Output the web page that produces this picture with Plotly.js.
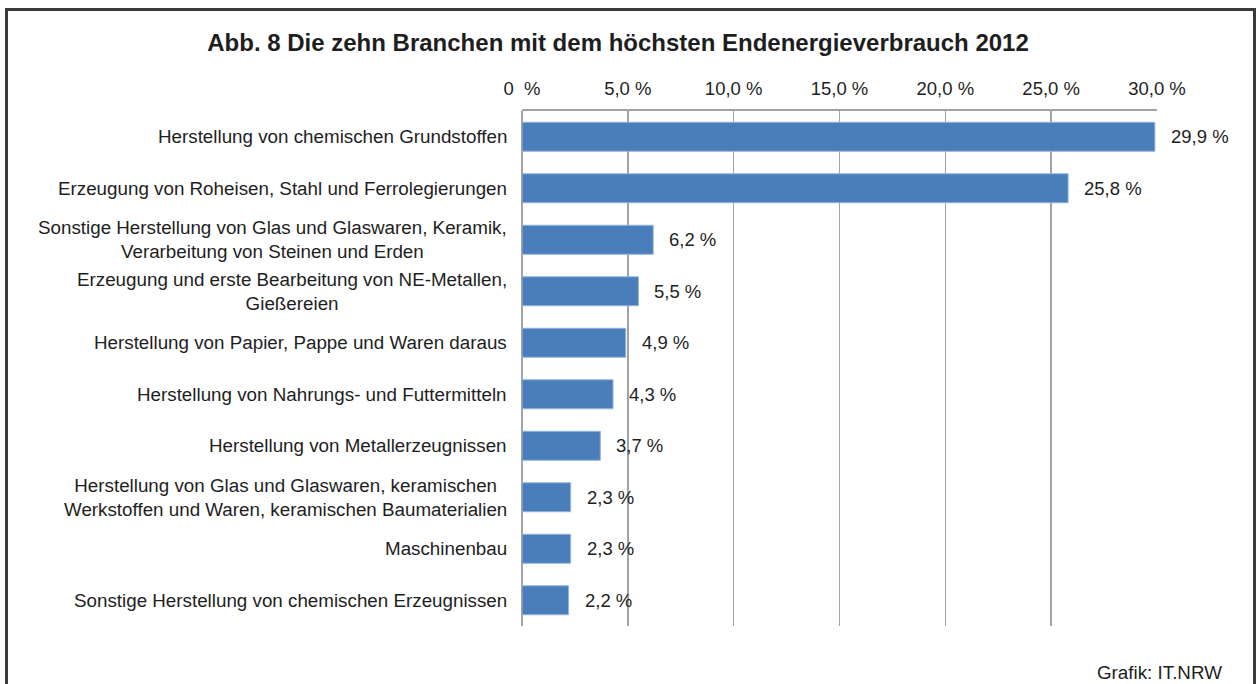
<!DOCTYPE html>
<html>
<head>
<meta charset="utf-8">
<script src="https://cdn.plot.ly/plotly-3.0.1.min.js"></script>
<style>
body{margin:0;background:#ffffff;}
#frame{position:absolute;left:5px;top:8px;width:1245px;height:720px;border:3px solid #3a3a3a;}
#myDiv{position:absolute;left:0;top:0;width:1260px;height:684px;}
</style>
</head>
<body>
<div id="frame"></div>
<div id="myDiv"></div>
<script>
var branchen=["Herstellung von chemischen Grundstoffen",
	"Erzeugung von Roheisen, Stahl und Ferrolegierungen",
	"Sonstige Herstellung von Glas und Glaswaren, Keramik,<br>Verarbeitung von Steinen und Erden",
	"Erzeugung und erste Bearbeitung von NE-Metallen,<br>Gießereien",
	"Herstellung von Papier, Pappe und Waren daraus",
	"Herstellung von Nahrungs- und Futtermitteln",
	"Herstellung von Metallerzeugnissen",
	"Herstellung von Glas und Glaswaren, keramischen<br>Werkstoffen und Waren, keramischen Baumaterialien",
	"Maschinenbau",
	"Sonstige Herstellung von chemischen Erzeugnissen"]
var anteil=[29.9,25.8,6.2,5.5,4.9,4.3,3.7,2.3,2.3,2.2]
var tickVals=[0,5,10,15,20,25,30]
var tickText=["0\u00a0 %","5,0 %","10,0 %","15,0 %","20,0 %","25,0 %","30,0 %"]

var schrift='"Liberation Sans", Arial, sans-serif'
var textFarbe='#1e1e1e'

var bars={
	x:anteil,
	y:branchen,
	type:'bar',
	orientation:'h',
	marker:{
		color:'rgb(74, 126, 187)',
		line:{color:'rgb(150, 180, 218)',width:1}
	},
	hoverinfo:'none'
}

var notes=[]
for (i=0;i<branchen.length;i++){
	// Beschriftung links
	notes.push({
		xref:'paper',yref:'y',
		x:0,y:branchen[i],
		xanchor:'right',yanchor:'middle',
		xshift:-13,
		align:'center',
		text:branchen[i],
		showarrow:false,
		font:{family:schrift,size:18.8,color:textFarbe}
	})
	// Wert rechts vom Balken
	notes.push({
		xref:'x',yref:'y',
		x:anteil[i],y:branchen[i],
		xanchor:'left',yanchor:'middle',
		xshift:14,
		text:anteil[i].toFixed(1).replace('.',',')+' %',
		showarrow:false,
		font:{family:schrift,size:18.5,color:textFarbe}
	})
}
notes.push({
	xref:'paper',yref:'paper',
	x:1.1008,y:-0.09,
	xanchor:'right',yanchor:'middle',
	xshift:3,
	text:'Grafik: IT.NRW',
	showarrow:false,
	font:{family:schrift,size:18.8,color:textFarbe}
})

var layout={
	width:1260,
	height:684,
	paper_bgcolor:'rgba(0,0,0,0)',
	plot_bgcolor:'rgba(0,0,0,0)',
	margin:{l:522,r:103,t:111,b:58},
	showlegend:false,
	bargap:0.437,
	title:{
		text:'Abb. 8 Die zehn Branchen mit dem höchsten Endenergieverbrauch 2012',
		font:{family:schrift,size:24,color:textFarbe,weight:'bold'},
		x:0.4905,xanchor:'center',
		yref:'container',y:0.937,yanchor:'middle'
	},
	xaxis:{
		side:'top',
		range:[0,30],
		tickvals:tickVals,
		ticktext:tickText,
		showgrid:true,
		gridcolor:'#a3a3a3',
		gridwidth:1.6,
		zeroline:true,
		zerolinecolor:'#a3a3a3',
		zerolinewidth:1.6,
		showline:true,
		linecolor:'#a3a3a3',
		linewidth:1.6,
		ticks:'',
		ticklabelstandoff:7,
		tickfont:{family:schrift,size:18.5,color:textFarbe},
		fixedrange:true
	},
	yaxis:{
		type:'category',
		range:[9.5,-0.5],
		showticklabels:false,
		showgrid:false,
		zeroline:false,
		showline:false,
		ticks:'',
		fixedrange:true
	},
	annotations:notes
}

Plotly.newPlot('myDiv',[bars],layout,{staticPlot:true})
</script>
</body>
</html>
